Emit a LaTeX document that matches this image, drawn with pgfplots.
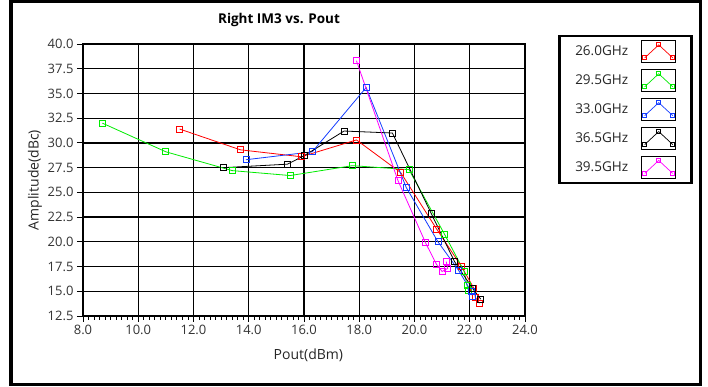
\documentclass[border=0pt]{standalone}
\usepackage{fontspec}
\setmainfont{Open Sans}
\usepackage{pgfplots}
\pgfplotsset{compat=1.18}
\definecolor{cRed}{RGB}{255,0,0}
\definecolor{cGreen}{RGB}{0,235,0}
\definecolor{cBlue}{RGB}{20,60,255}
\definecolor{cMag}{RGB}{255,0,255}
\begin{document}
\begin{tikzpicture}
\begin{axis}[
  at={(83bp,71bp)}, anchor=south west,
  scale only axis, width=442bp, height=272bp,
  xmin=8, xmax=24, ymin=12.5, ymax=40,
  xtick={8,10,...,24}, ytick={12.5,15,...,40},
  minor x tick num=9,
  grid=major,
  major grid style={black, line width=1.3bp},
  axis line style={black, line width=1.3bp},
  tick align=outside,
  major tick length=6bp, minor tick length=4bp,
  tick style={black, line width=0.9bp},
  every minor tick/.style={black, line width=0.9bp},
  ytick pos=left, xtick pos=bottom,
  /pgf/number format/assume math mode=true,
  xticklabel style={/pgf/number format/.cd, fixed, fixed zerofill, precision=1},
  yticklabel style={/pgf/number format/.cd, fixed, fixed zerofill, precision=1},
  ticklabel style={font=\fontsize{13bp}{15bp}\selectfont, text=black!80},
  xlabel={Pout(dBm)}, ylabel={Amplitude(dBc)},
  label style={font=\fontsize{14bp}{16bp}\selectfont, text=black!85},
  xlabel style={at={(axis description cs:0.51,-0.143)}, anchor=center},
  ylabel style={at={(axis description cs:-0.1086,0.5)}, anchor=center},
  title={Right IM3 vs. Pout},
  title style={at={(axis description cs:0.4434,1.066)}, anchor=center, font=\bfseries\fontsize{13.5bp}{15bp}\selectfont},
  legend plot pos=right,
  legend cell align=right,
  legend style={at={(rel axis cs:1.0747,1.0331)}, anchor=north west, draw=black, line width=2.5bp, fill=white,
    inner xsep=15bp, inner ysep=4bp, row sep=5.7bp, column sep=12bp,
    nodes={inner sep=1bp, font=\fontsize{13.5bp}{16bp}\selectfont, text=black!85}},
  legend image code/.code={
    \draw[black, line width=1.2bp, fill=white] (0bp,-11bp) rectangle (34bp,11bp);
    \draw[#1, line width=0.7bp, mark size=2bp] plot coordinates {(3bp,-6bp) (17bp,7bp) (31bp,-6bp)};
  },
  every axis plot/.append style={line width=0.8bp, mark=square, mark size=3bp, mark options={line width=0.8bp, fill=none}},
]
\addplot[color=cRed] coordinates {(11.5,31.4) (13.7,29.3) (15.9,28.6) (17.9,30.3) (19.5,27.0) (20.8,21.3) (21.7,17.5) (22.15,15.3) (22.2,14.4) (22.35,13.8)};
\addlegendentry{26.0GHz}
\addplot[color=cGreen] coordinates {(8.7,32.0) (11.0,29.1) (13.4,27.2) (15.5,26.7) (17.75,27.7) (19.8,27.3) (21.1,20.7) (21.8,17.0) (21.9,15.6) (21.95,15.1)};
\addlegendentry{29.5GHz}
\addplot[color=cBlue] coordinates {(13.9,28.3) (16.3,29.1) (18.25,35.6) (19.7,25.5) (20.85,20.0) (21.6,17.1) (22.05,15.0) (22.1,14.5)};
\addlegendentry{33.0GHz}
\addplot[color=black] coordinates {(13.1,27.5) (15.4,27.85) (16.0,28.7) (17.45,31.2) (19.2,31.0) (20.6,22.9) (21.45,18.0) (22.1,15.3) (22.4,14.2)};
\addlegendentry{36.5GHz}
\addplot[color=cMag] coordinates {(17.9,38.3) (19.4,26.2) (20.4,19.9) (20.8,17.7) (21.0,17.0) (21.2,17.3) (21.15,18.0)};
\addlegendentry{39.5GHz}
\end{axis}
\draw[black, line width=3.5bp] (11bp,2.3bp) rectangle (700.5bp,385.3bp);
\pgfresetboundingbox
\path[use as bounding box] (0,0) rectangle (708bp,387bp);
\end{tikzpicture}
\end{document}
